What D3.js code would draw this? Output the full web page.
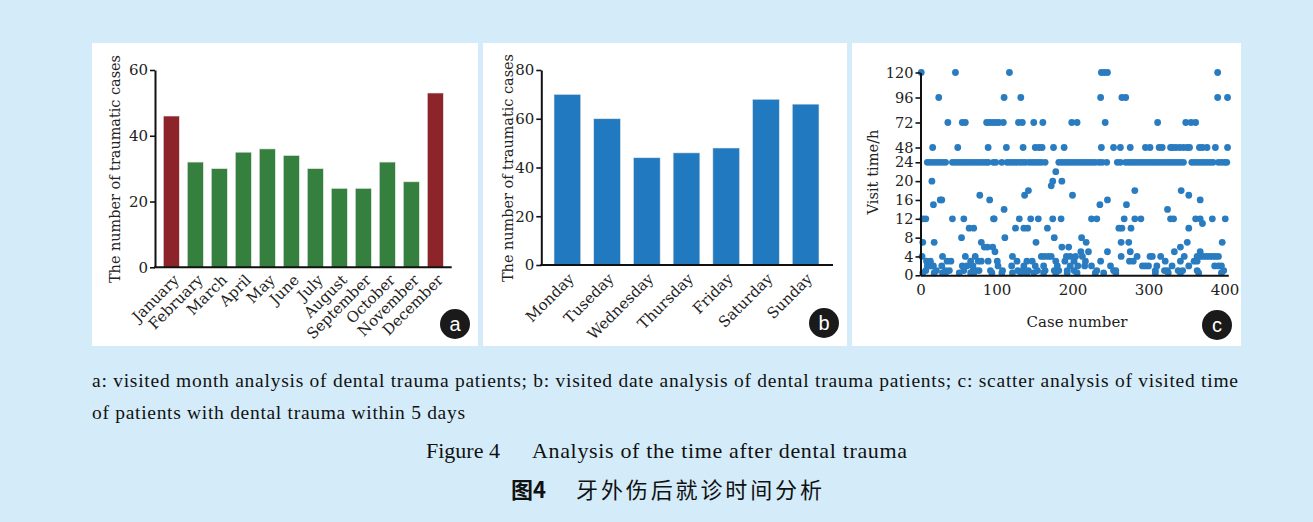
<!DOCTYPE html>
<html><head><meta charset="utf-8">
<script src="https://cdn.jsdelivr.net/npm/d3@7"></script>
<style>body{margin:0;background:#d4ecf9;} svg{display:block}</style>
</head><body><svg id="c" width="1313" height="522"></svg>
<script>
// ---------- data ----------
const months = ["January","February","March","April","May","June","July","August","September","October","November","December"];
const monthCases = [46,32,30,35,36,34,30,24,24,32,26,53];
const highlightMonths = ["January","December"];
const monthTicks = [0,20,40,60];

const weekdays = ["Monday","Tuseday","Wednesday","Thursday","Friday","Saturday","Sunday"];
const weekdayCases = [70,60,44,46,48,68,66];
const weekdayTicks = [0,20,40,60,80];

const visitTicks = [0,4,8,12,16,20,24,48,72,96,120];
const caseTicks = [0,100,200,300,400];
// visit time levels (h) and the case numbers observed at each level
const scatterLevels = [120,96,72,48,24,22,20,19,18,17,16,15,14,12,11,10,8,7,6,5,4,3,2,1,0.5];
const scatterCases = [
  [1,46,117,238,242,246,391],
  [24,110,132,237,265,270,391,404],
  [36,55,59,87,91,95,99,103,109,129,134,149,161,199,206,243,312,349,356,362],
  [16,49,89,113,135,151,156,160,175,189,238,254,263,276,296,302,314,318,329,332,336,341,346,351,354,367,371,377,388,404],
  [9,13,17,21,25,29,33,42,46,50,54,58,62,66,70,74,78,82,86,89,96,99,107,114,118,122,126,130,134,138,143,147,151,155,159,164,182,186,190,194,198,202,206,210,214,218,222,226,230,235,239,245,259,263,270,274,278,282,286,290,294,298,302,306,310,314,318,322,326,330,334,338,342,346,357,361,365,369,373,377,381,385,392,396,400,403],
  [178],
  [15,174,186],
  [172],
  [142,282,343],
  [78,137,200,353],
  [26,28,91,246,368],
  [17,236,271],
  [110,325],
  [3,7,42,57,96,97,130,145,155,174,185,225,232,268,282,290,329,333,362,368,384,401],
  [371],
  [64,70,125,136,141,167,261,265,277,353],
  [54,111,176,212],
  [3,18,80,152,218,264,274,351,397],
  [84,88,95,186,195,342],
  [98,211,221,246,276,334,368],
  [2,29,59,72,121,159,163,168,172,192,197,204,213,264,285,302,305,316,347,364,368,372,376,380,384,388,392],
  [8,13,35,40,66,76,80,89,101,127,140,147,178,190,202,217,237,275,280,322,342,360,364],
  [9,12,15,17,28,55,61,69,102,120,136,151,162,180,197,207,216,225,250,292,296,300,311,331,353,387,392,396],
  [7,21,33,38,57,69,73,77,92,108,128,134,142,154,164,176,182,193,202,232,254,257,309,321,325,339,345,364,399],
  [3,18,29,33,51,66,70,94,107,121,132,140,149,162,178,193,206,230,241,257,309,326,342,366,396]
];

// ---------- styles ----------
const BG = "#d4ecf9";
const RED = "#8c2429", GREEN = "#36803f", BLUE = "#2179bf", DOT = "#2a7cc0";
const FONT = "'DejaVu Serif', serif";
const TXT = "#222";

const svg = d3.select("#c");
svg.append("rect").attr("width",1313).attr("height",522).attr("fill",BG);
// panels
[[92,478],[483,847],[852,1241]].forEach(([x0,x1])=>{
  svg.append("rect").attr("x",x0).attr("y",43).attr("width",x1-x0).attr("height",303).attr("fill","#fff");
});

function styleAxis(g, fs){
  g.select(".domain").attr("stroke","#111").attr("stroke-width",2);
  g.selectAll(".tick line").attr("stroke","#111").attr("stroke-width",1.6);
  g.selectAll(".tick text").attr("font-family",FONT).attr("font-size",fs||15).attr("fill",TXT);
}
function badge(cx,cy,label){
  svg.append("circle").attr("cx",cx).attr("cy",cy).attr("r",15).attr("fill","#1a1a1a");
  svg.append("text").attr("x",cx).attr("y",cy+6.5).attr("text-anchor","middle")
    .attr("font-family","'Liberation Sans', Arial, sans-serif").attr("font-size",20).attr("fill","#fff").text(label);
}
function yTitle(x,cy,text,len){
  svg.append("text").attr("transform",`translate(${x},${cy}) rotate(-90)`).attr("text-anchor","middle")
    .attr("font-family",FONT).attr("font-size",15).attr("fill",TXT)
    .attr("textLength",len).attr("lengthAdjust","spacingAndGlyphs").text(text);
}

// ---------- panel a ----------
{
  const axX = 155, axY = 267.3, axEnd = 451.7;
  const y = d3.scaleLinear().domain([0,60]).range([axY,70]);
  const x = d3.scaleBand().domain(months).range([159.3,447.3]).paddingInner(1/3).paddingOuter(1/6);
  svg.append("g").selectAll("rect").data(months).join("rect")
    .attr("x",d=>x(d)).attr("width",x.bandwidth())
    .attr("y",(d,i)=>y(monthCases[i])).attr("height",(d,i)=>axY-y(monthCases[i]))
    .attr("fill",d=>highlightMonths.includes(d)?RED:GREEN)
    .attr("stroke","#e6e6e6").attr("stroke-width",0.6);
  const ga = svg.append("g").attr("transform",`translate(${axX},0)`)
    .call(d3.axisLeft(y).tickValues(monthTicks).tickSize(5).tickSizeOuter(0).tickPadding(2));
  styleAxis(ga);
  svg.append("line").attr("x1",axX-1).attr("x2",axEnd).attr("y1",axY).attr("y2",axY).attr("stroke","#111").attr("stroke-width",2);
  svg.append("g").selectAll("text").data(months).join("text")
    .attr("transform",d=>`translate(${x(d)+x.bandwidth()/2+5},${axY+10}) rotate(-45)`)
    .attr("text-anchor","end").attr("dy","0.35em")
    .attr("font-family",FONT).attr("font-size",15).attr("fill",TXT).text(d=>d);
  yTitle(120,169,"The number of traumatic cases",228);
  badge(455,324,"a");
}

// ---------- panel b ----------
{
  const axX = 541.3, axY = 265, axEnd = 833;
  const y = d3.scaleLinear().domain([0,80]).range([axY,70]);
  const x = d3.scaleBand().domain(weekdays).range([547.5,825.5]).paddingInner(0.327).paddingOuter(0.164);
  svg.append("g").selectAll("rect").data(weekdays).join("rect")
    .attr("x",d=>x(d)).attr("width",x.bandwidth())
    .attr("y",(d,i)=>y(weekdayCases[i])).attr("height",(d,i)=>axY-y(weekdayCases[i]))
    .attr("fill",BLUE).attr("stroke","#e6e6e6").attr("stroke-width",0.6);
  const ga = svg.append("g").attr("transform",`translate(${axX},0)`)
    .call(d3.axisLeft(y).tickValues(weekdayTicks).tickSize(5).tickSizeOuter(0).tickPadding(2));
  styleAxis(ga);
  svg.append("line").attr("x1",axX-1).attr("x2",axEnd).attr("y1",axY).attr("y2",axY).attr("stroke","#111").attr("stroke-width",2);
  svg.append("g").selectAll("text").data(weekdays).join("text")
    .attr("transform",d=>`translate(${x(d)+x.bandwidth()/2+4},${axY+11}) rotate(-45)`)
    .attr("text-anchor","end").attr("dy","0.35em")
    .attr("font-family",FONT).attr("font-size",15).attr("fill",TXT).text(d=>d);
  yTitle(513,168,"The number of traumatic cases",228);
  badge(824,323,"b");
}

// ---------- panel c ----------
{
  const axX = 920.5, axY = 275.3;
  const y = d3.scaleLinear().domain([0,24,48,120]).range([axY,162.3,147.5,72.5]);
  const x = d3.scaleLinear().domain([0,405]).range([axX,axX+307.8]);
  const pts = scatterLevels.flatMap((h,i)=>scatterCases[i].map(c=>({c,h})));
  svg.append("g").selectAll("circle").data(pts).join("circle")
    .attr("cx",d=>x(d.c)).attr("cy",d=>y(d.h)).attr("r",3.4).attr("fill",DOT);
  const ga = svg.append("g").attr("transform",`translate(${axX},0)`)
    .call(d3.axisLeft(y).tickValues(visitTicks).tickSize(5).tickSizeOuter(0).tickPadding(2));
  styleAxis(ga, 14.5);
  const gb = svg.append("g").attr("transform",`translate(0,${axY})`)
    .call(d3.axisBottom(x).tickValues(caseTicks).tickSize(0).tickSizeOuter(0).tickPadding(9));
  styleAxis(gb);
  svg.append("text").attr("x",1077).attr("y",327).attr("text-anchor","middle")
    .attr("font-family",FONT).attr("font-size",15).attr("fill",TXT).text("Case number");
  yTitle(878,172,"Visit time/h",85);
  badge(1217,325,"c");
}

// ---------- captions ----------
const CAP = "'Liberation Serif', 'Times New Roman', serif";
svg.append("text").attr("x",92).attr("y",387).attr("font-family",CAP).attr("font-size",19.5).attr("fill","#111")
  .attr("textLength",1146).attr("lengthAdjust","spacing")
  .text("a: visited month analysis of dental trauma patients; b: visited date analysis of dental trauma patients; c: scatter analysis of visited time");
svg.append("text").attr("x",92).attr("y",419).attr("font-family",CAP).attr("font-size",19.5).attr("fill","#111")
  .attr("textLength",373).attr("lengthAdjust","spacing")
  .text("of patients with dental trauma within 5 days");
svg.append("text").attr("x",426).attr("y",458).attr("font-family",CAP).attr("font-size",22).attr("fill","#111")
  .text("Figure 4");
svg.append("text").attr("x",532).attr("y",458).attr("font-family",CAP).attr("font-size",22).attr("fill","#111")
  .attr("textLength",375).attr("lengthAdjust","spacing")
  .text("Analysis of the time after dental trauma");
svg.append("text").attr("x",511).attr("y",498).attr("font-family","'Noto Sans CJK SC', sans-serif")
  .attr("font-size",22).attr("font-weight","bold").attr("fill","#111").text("图4");
svg.append("text").attr("x",576).attr("y",498).attr("font-family","'Noto Sans CJK SC', sans-serif")
  .attr("font-size",22).attr("fill","#111").attr("textLength",246).attr("lengthAdjust","spacing")
  .text("牙外伤后就诊时间分析");
</script></body></html>
